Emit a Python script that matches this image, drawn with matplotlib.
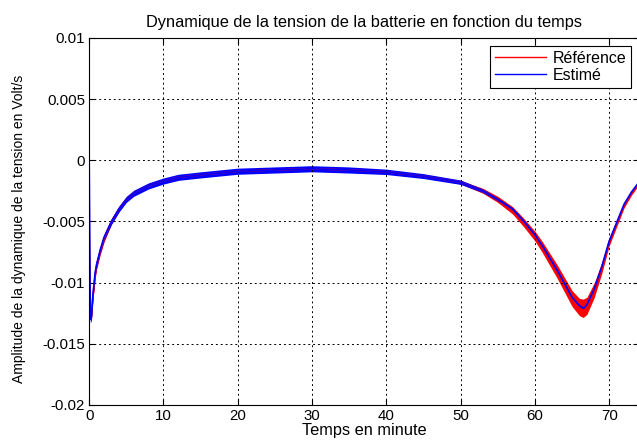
import numpy as np
import matplotlib
matplotlib.use("Agg")
import matplotlib.pyplot as plt

plt.rcParams['font.family'] = ['Liberation Sans', 'DejaVu Sans']

# temps (minutes)
t = [0, 0.15, 0.3, 0.5, 0.8, 1, 1.5, 2, 3, 4, 5, 6, 8, 10, 12, 15, 20, 25, 30,
     35, 40, 45, 50, 53, 55, 57, 58.5, 60, 61, 62, 63, 64, 65, 66, 66.5, 67,
     68, 69, 70, 71, 72, 73, 74]

# estimé (centre de la courbe bleue)
est = [0, -0.0130, -0.0128, -0.0110, -0.0092, -0.0085, -0.0073, -0.0063,
       -0.0050, -0.0040, -0.0032, -0.0027, -0.0021, -0.0017, -0.0014, -0.0012,
       -0.0009, -0.0008, -0.0007, -0.0008, -0.00095, -0.0013, -0.0018,
       -0.0025, -0.0032, -0.0040, -0.0050, -0.0061, -0.0070, -0.0080,
       -0.0090, -0.0101, -0.0112, -0.0119, -0.0121, -0.0118, -0.0105,
       -0.0087, -0.0066, -0.0051, -0.0036, -0.0026, -0.0018]
est_spread = [0.0002, 0.0003, 0.0003, 0.0003, 0.0003, 0.0003, 0.00025, 0.00025,
              0.00025, 0.00025, 0.00025, 0.00025, 0.00025, 0.00025, 0.00025,
              0.00025, 0.00025, 0.00025, 0.00025, 0.00025, 0.00022, 0.0002,
              0.00018, 0.00014, 0.00012, 0.0001, 0.0001, 0.00006, 0.00005,
              0.00005, 0.00005, 0.00005, 0.00005, 0.00005, 0.00006, 0.00005,
              0.00005, 0.00005, 0.00005, 0.00005, 0.00005, 0.00005, 0.00005]

# référence (courbe rouge)
ref = [-0.0057, -0.0125, -0.0128, -0.0112, -0.0094, -0.0086, -0.0074, -0.0064,
       -0.0050, -0.0040, -0.0032, -0.0027, -0.0021, -0.0017, -0.0014, -0.0012,
       -0.0009, -0.0008, -0.0007, -0.0008, -0.00095, -0.0013, -0.0018,
       -0.0025, -0.0032, -0.0041, -0.0051, -0.0062, -0.0071, -0.0081,
       -0.0091, -0.0102, -0.0113, -0.0120, -0.0121, -0.0119, -0.0106,
       -0.0088, -0.0067, -0.0052, -0.0037, -0.0027, -0.0019]
ref_spread = [0.0002, 0.0003, 0.0003, 0.0003, 0.0003, 0.0003, 0.0003, 0.0003,
              0.0002, 0.0002, 0.00015, 0.00015, 0.00012, 0.00012, 0.00012,
              0.00012, 0.00012, 0.00012, 0.00012, 0.00012, 0.00012, 0.00012,
              0.00015, 0.0002, 0.00025, 0.0003, 0.00035, 0.0004, 0.00045,
              0.0005, 0.00055, 0.0006, 0.00065, 0.0007, 0.00075, 0.0007,
              0.0006, 0.00045, 0.0003, 0.00025, 0.0002, 0.00015, 0.00012]

t = np.array(t)
est = np.array(est)
ref = np.array(ref)
est_spread = np.array(est_spread)
ref_spread = np.array(ref_spread)

fig = plt.figure(figsize=(6.37, 4.45), dpi=100)
ax = fig.add_axes([0.140, 0.090, 0.863, 0.825])

ax.fill_between(t, ref - ref_spread, ref + ref_spread, color='red', lw=0)
ax.plot(t, ref, color='red', lw=1.2, label='Référence')
ax.fill_between(t, est - est_spread, est + est_spread, color='blue', lw=0)
ax.plot(t, est, color='blue', lw=1.2, label='Estimé')

ax.set_xlim(0, 74)
ax.set_ylim(-0.02, 0.01)
ax.set_xticks([0, 10, 20, 30, 40, 50, 60, 70])
ax.set_yticks([-0.02, -0.015, -0.01, -0.005, 0, 0.005, 0.01])
ax.set_yticklabels(['-0.02', '-0.015', '-0.01', '-0.005', '0', '0.005', '0.01'])
ax.tick_params(direction='in', top=True, right=True, labelsize=10.8, length=4,
               pad=3)
ax.grid(True, color='black', linestyle=(0, (2, 3)), linewidth=0.7)
for s in ax.spines.values():
    s.set_linewidth(0.8)

ax.set_title('Dynamique de la tension de la batterie en fonction du temps',
             fontsize=11.8, pad=8)
ax.set_xlabel('Temps en minute', fontsize=11.8, labelpad=0)
ax.set_ylabel('Amplitude de la dynamique de la tension en Volt/s',
              fontsize=10)
ax.yaxis.set_label_coords(-0.115, 0.48)

leg = ax.legend(loc='upper right', fontsize=11.5, frameon=True, fancybox=False,
                edgecolor='black', framealpha=1, handlelength=3.2,
                borderpad=0.3, labelspacing=0.15, borderaxespad=0.5,
                handletextpad=0.4)
leg.get_frame().set_linewidth(0.8)
for h in leg.get_lines():
    h.set_linewidth(1)

fig.savefig('out.png', dpi=100)
